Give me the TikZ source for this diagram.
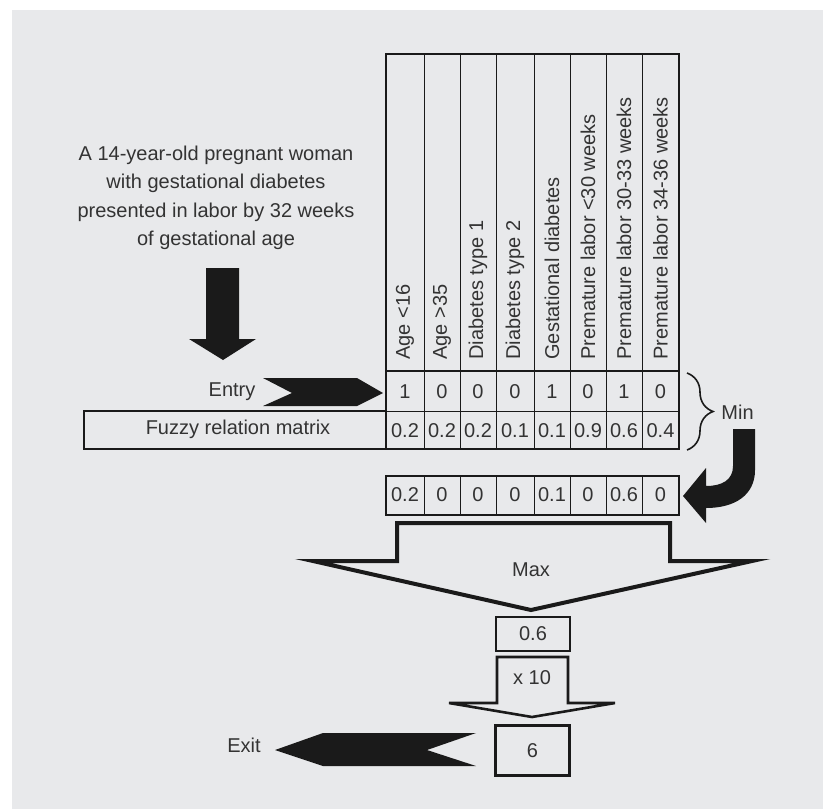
\documentclass[tikz,border=0pt]{standalone}
\usepackage{fontspec}
\setmainfont{Liberation Sans}
\usetikzlibrary{decorations.pathreplacing,positioning}
\definecolor{panel}{HTML}{E8E9EB}
\definecolor{ink}{HTML}{1A1A1A}
\definecolor{txt}{HTML}{333333}

\begin{document}
\begin{tikzpicture}[
    x=0.5pt, y=-0.5pt,
    every node/.style={
        font=\fontsize{10}{12}\selectfont,
        text=txt,
        inner sep=1pt
    },
    heading/.style={rotate=90, anchor=west, inner sep=0pt},
    frame/.style={draw=ink, line width=1.3pt},
    grid/.style={draw=ink, line width=0.5pt},
    solidarrow/.style={fill=ink, draw=none},
    hollowarrow/.style={draw=ink, fill=panel, line width=2pt, line join=miter},
    valuebox/.style={draw=ink, minimum width=37pt, inner sep=0pt}
]

\useasboundingbox (0,0) rectangle (823,809);
\fill[panel] (12,10) rectangle (823,809);

% case description
\node[align=center, font=\fontsize{10}{14.25}\selectfont] (case) at (216,198)
    {A 14-year-old pregnant woman\\with gestational diabetes\\presented in labor by 32 weeks\\of gestational age};
\fill[solidarrow] (206,268) -- (239,268) -- (239,339) -- (256,339) -- (223,360)
    -- (189,339) -- (206,339) -- cycle;

% matrix columns
\foreach \xa/\xb/\hd/\ea/\fz/\mn [count=\i] in {
    386/424/{Age <16}/1/0.2/0.2,
    424/460/{Age >35}/0/0.2/0,
    460/496/{Diabetes type 1}/0/0.2/0,
    496/534/{Diabetes type 2}/0/0.1/0,
    534/570/{Gestational diabetes}/1/0.1/0.1,
    570/606/{Premature labor <30 weeks}/0/0.9/0,
    606/642/{Premature labor 30-33 weeks}/1/0.6/0.6,
    642/679/{Premature labor 34-36 weeks}/0/0.4/0}
{
    \pgfmathsetmacro\xc{(\xa+\xb)/2}
    \node[heading] (h\i) at (\xc,360) {\hd};
    \node (e\i) at (\xc,392) {\ea};
    \node (f\i) at (\xc,431) {\fz};
    \node (m\i) at (\xc,495) {\mn};
    \draw[grid] (\xb,54) -- (\xb,449);
    \draw[grid] (\xb,476) -- (\xb,515);
}
\draw[frame] (386,371) -- (679,371);
\draw[grid] (386,411) -- (679,411);
\draw[frame] (386,54) rectangle (679,449);
\draw[frame] (84,411) rectangle (386,449);
\draw[frame] (386,476) rectangle (679,515);

% entry
\node (entry) at (232,392) {Entry};
\fill[solidarrow] (263,378) -- (357,378) -- (383,393) -- (357,406) -- (263,406)
    -- (292,393) -- cycle;
\node (fuzzy) at (238,429) {Fuzzy relation matrix};

% min
\draw[ink, line width=0.8pt, decorate, decoration={brace, amplitude=13pt}]
    (687,373) -- (687,450);
\node[anchor=west] (min) at (719,412) {Min};
\fill[solidarrow] (733,429) -- (755,429) -- (755,470)
    .. controls (755,495) and (735,508) .. (706,508) -- (706,523) -- (683,496)
    -- (706,468) -- (706,486) .. controls (722,486) and (733,480) .. (733,466) -- cycle;

% max
\draw[hollowarrow] (397,523) -- (670,523) -- (670,561) -- (752,561) -- (531,610)
    -- (313,561) -- (397,561) -- cycle;
\node (max) at (531,570) {Max};
\node[valuebox, line width=0.6pt, minimum height=17pt] (best) at (533,634) {0.6};

% scaling
\draw[hollowarrow, line width=1.3pt] (497,657) -- (568,657) -- (568,703) -- (615,703)
    -- (532,717) -- (449,703) -- (497,703) -- cycle;
\node (times) at (532,678) {x 10};
\node[valuebox, line width=1.3pt, minimum height=25pt] (score) at (532.5,750.5) {6};

% exit
\fill[solidarrow] (275,750) -- (323,733) -- (476,733) -- (427,750) -- (476,766)
    -- (323,766) -- cycle;
\node (exit) at (244,745) {Exit};

\end{tikzpicture}
\end{document}
